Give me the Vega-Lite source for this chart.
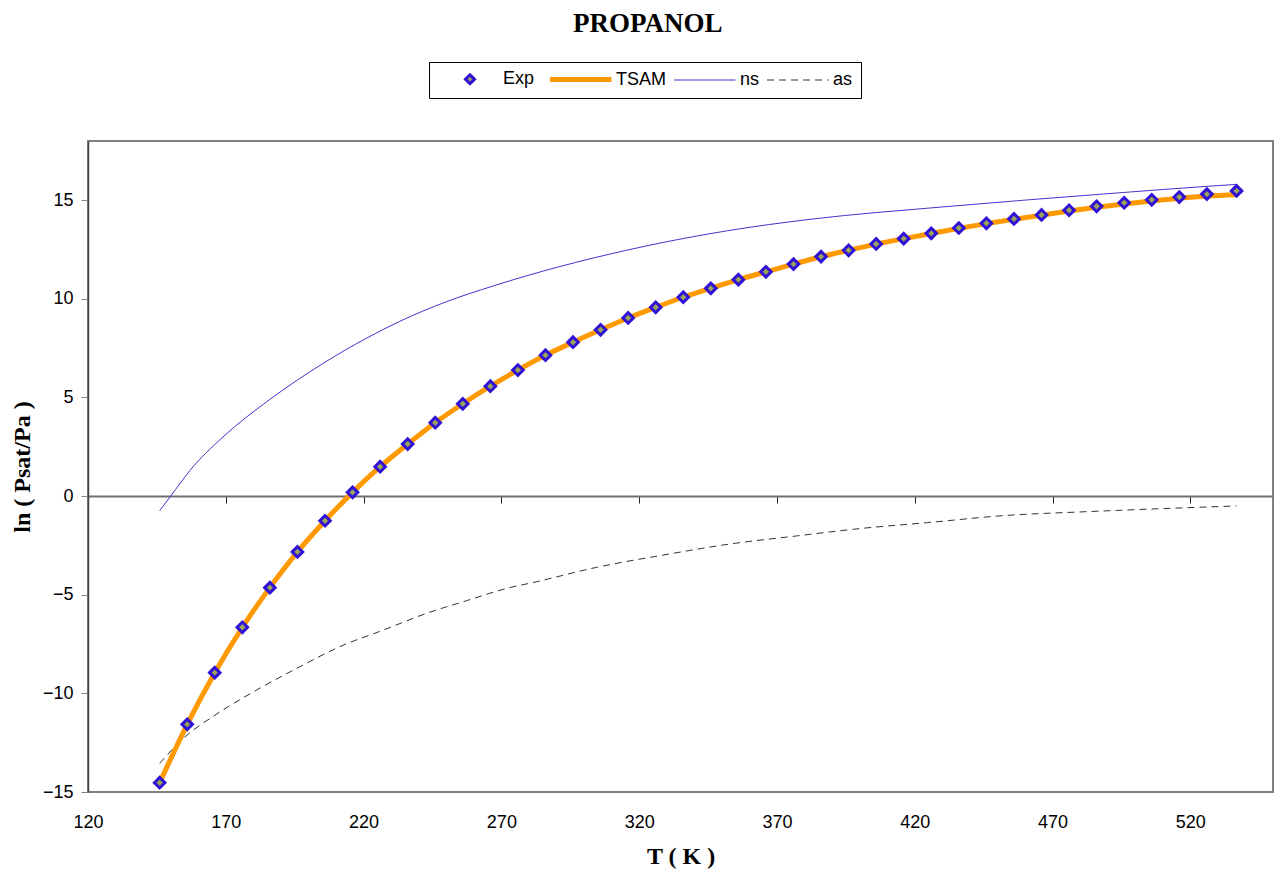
{
  "$schema": "https://vega.github.io/schema/vega-lite/v6.json",
  "width": 1185,
  "height": 651,
  "autosize": {"type": "none"},
  "padding": {"left": 88, "top": 141, "right": 1, "bottom": 83},
  "background": "white",
  "title": {"text": "PROPANOL", "font": "Liberation Serif", "fontSize": 27, "fontWeight": "bold", "color": "black", "anchor": "middle", "frame": "bounds", "offset": 24, "dx": 6},
  "config": {
    "view": {"stroke": "#808080", "strokeWidth": 2},
    "axis": {"grid": false, "labelFont": "Liberation Sans", "labelFontSize": 18, "labelColor": "black", "titleFont": "Liberation Serif", "titleFontSize": 24, "titleFontWeight": "bold", "titleColor": "black"}
  },
  "datasets": {
    "exp": [
      {"series": "Exp", "T": 146, "v": -14.53}, {"series": "Exp", "T": 156, "v": -11.57}, {"series": "Exp", "T": 166, "v": -8.95},
      {"series": "Exp", "T": 176, "v": -6.65}, {"series": "Exp", "T": 186, "v": -4.64}, {"series": "Exp", "T": 196, "v": -2.83},
      {"series": "Exp", "T": 206, "v": -1.25}, {"series": "Exp", "T": 216, "v": 0.19}, {"series": "Exp", "T": 226, "v": 1.49},
      {"series": "Exp", "T": 236, "v": 2.64}, {"series": "Exp", "T": 246, "v": 3.72}, {"series": "Exp", "T": 256, "v": 4.68},
      {"series": "Exp", "T": 266, "v": 5.57}, {"series": "Exp", "T": 276, "v": 6.39}, {"series": "Exp", "T": 286, "v": 7.14},
      {"series": "Exp", "T": 296, "v": 7.80}, {"series": "Exp", "T": 306, "v": 8.43}, {"series": "Exp", "T": 316, "v": 9.03},
      {"series": "Exp", "T": 326, "v": 9.57}, {"series": "Exp", "T": 336, "v": 10.08}, {"series": "Exp", "T": 346, "v": 10.53},
      {"series": "Exp", "T": 356, "v": 10.97}, {"series": "Exp", "T": 366, "v": 11.37}, {"series": "Exp", "T": 376, "v": 11.76},
      {"series": "Exp", "T": 386, "v": 12.14}, {"series": "Exp", "T": 396, "v": 12.46}, {"series": "Exp", "T": 406, "v": 12.78},
      {"series": "Exp", "T": 416, "v": 13.05}, {"series": "Exp", "T": 426, "v": 13.32}, {"series": "Exp", "T": 436, "v": 13.59},
      {"series": "Exp", "T": 446, "v": 13.83}, {"series": "Exp", "T": 456, "v": 14.05}, {"series": "Exp", "T": 466, "v": 14.25},
      {"series": "Exp", "T": 476, "v": 14.49}, {"series": "Exp", "T": 486, "v": 14.69}, {"series": "Exp", "T": 496, "v": 14.87},
      {"series": "Exp", "T": 506, "v": 15.02}, {"series": "Exp", "T": 516, "v": 15.16}, {"series": "Exp", "T": 526, "v": 15.31},
      {"series": "Exp", "T": 536.8, "v": 15.47}
    ],
    "tsam": [
      {"series": "TSAM", "T": 146, "v": -14.53}, {"series": "TSAM", "T": 156, "v": -11.57}, {"series": "TSAM", "T": 166, "v": -8.95},
      {"series": "TSAM", "T": 176, "v": -6.65}, {"series": "TSAM", "T": 186, "v": -4.64}, {"series": "TSAM", "T": 196, "v": -2.83},
      {"series": "TSAM", "T": 206, "v": -1.25}, {"series": "TSAM", "T": 216, "v": 0.19}, {"series": "TSAM", "T": 226, "v": 1.49},
      {"series": "TSAM", "T": 236, "v": 2.64}, {"series": "TSAM", "T": 246, "v": 3.72}, {"series": "TSAM", "T": 256, "v": 4.68},
      {"series": "TSAM", "T": 266, "v": 5.57}, {"series": "TSAM", "T": 276, "v": 6.39}, {"series": "TSAM", "T": 286, "v": 7.14},
      {"series": "TSAM", "T": 296, "v": 7.80}, {"series": "TSAM", "T": 306, "v": 8.43}, {"series": "TSAM", "T": 316, "v": 9.03},
      {"series": "TSAM", "T": 326, "v": 9.57}, {"series": "TSAM", "T": 336, "v": 10.08}, {"series": "TSAM", "T": 346, "v": 10.53},
      {"series": "TSAM", "T": 356, "v": 10.97}, {"series": "TSAM", "T": 366, "v": 11.37}, {"series": "TSAM", "T": 376, "v": 11.76},
      {"series": "TSAM", "T": 386, "v": 12.13}, {"series": "TSAM", "T": 396, "v": 12.46}, {"series": "TSAM", "T": 406, "v": 12.77},
      {"series": "TSAM", "T": 416, "v": 13.05}, {"series": "TSAM", "T": 426, "v": 13.31}, {"series": "TSAM", "T": 436, "v": 13.57},
      {"series": "TSAM", "T": 446, "v": 13.81}, {"series": "TSAM", "T": 456, "v": 14.03}, {"series": "TSAM", "T": 466, "v": 14.24},
      {"series": "TSAM", "T": 476, "v": 14.45}, {"series": "TSAM", "T": 486, "v": 14.64}, {"series": "TSAM", "T": 496, "v": 14.81},
      {"series": "TSAM", "T": 506, "v": 14.96}, {"series": "TSAM", "T": 516, "v": 15.10}, {"series": "TSAM", "T": 526, "v": 15.21},
      {"series": "TSAM", "T": 536.8, "v": 15.28}
    ],
    "ns": [
      {"series": "ns", "T": 146, "v": -0.74}, {"series": "ns", "T": 150, "v": 0.0}, {"series": "ns", "T": 157, "v": 1.3},
      {"series": "ns", "T": 169, "v": 3.0}, {"series": "ns", "T": 186, "v": 4.9}, {"series": "ns", "T": 205, "v": 6.7},
      {"series": "ns", "T": 221, "v": 8.0}, {"series": "ns", "T": 233, "v": 8.85}, {"series": "ns", "T": 250, "v": 9.85},
      {"series": "ns", "T": 267, "v": 10.65}, {"series": "ns", "T": 315, "v": 12.45}, {"series": "ns", "T": 352, "v": 13.45},
      {"series": "ns", "T": 382, "v": 14.03}, {"series": "ns", "T": 432, "v": 14.68}, {"series": "ns", "T": 492, "v": 15.35},
      {"series": "ns", "T": 528, "v": 15.72}, {"series": "ns", "T": 536.8, "v": 15.8}
    ],
    "as": [
      {"series": "as", "T": 146, "v": -13.55}, {"series": "as", "T": 154.6, "v": -12.28}, {"series": "as", "T": 166.7, "v": -11.05},
      {"series": "as", "T": 181.2, "v": -9.83}, {"series": "as", "T": 196.9, "v": -8.65}, {"series": "as", "T": 211.4, "v": -7.63},
      {"series": "as", "T": 227.2, "v": -6.79}, {"series": "as", "T": 242.9, "v": -5.94}, {"series": "as", "T": 257.4, "v": -5.30},
      {"series": "as", "T": 271.9, "v": -4.68}, {"series": "as", "T": 282.8, "v": -4.34}, {"series": "as", "T": 304.6, "v": -3.61},
      {"series": "as", "T": 328.7, "v": -2.99}, {"series": "as", "T": 352.9, "v": -2.43}, {"series": "as", "T": 377.1, "v": -2.02},
      {"series": "as", "T": 401.3, "v": -1.63}, {"series": "as", "T": 424.3, "v": -1.35}, {"series": "as", "T": 452.1, "v": -0.99},
      {"series": "as", "T": 482.4, "v": -0.79}, {"series": "as", "T": 512.6, "v": -0.62}, {"series": "as", "T": 536.8, "v": -0.50}
    ]
  },
  "layer": [
    {
      "data": {"name": "as"},
      "mark": {"type": "line", "interpolate": "monotone", "strokeWidth": 1, "strokeDash": [7, 5]},
      "encoding": {
        "x": {"field": "T", "type": "quantitative", "scale": {"domain": [120, 550], "nice": false, "zero": false},
              "axis": {"orient": "bottom", "values": [120, 170, 220, 270, 320, 370, 420, 470, 520], "ticks": false, "tickSize": 0, "domain": false, "labelPadding": 21, "labelFlush": false, "labelOverlap": false, "labelBound": false, "title": "T ( K )", "titlePadding": 13}},
        "y": {"field": "v", "type": "quantitative", "scale": {"domain": [-15, 18], "nice": false, "zero": false},
              "axis": {"values": [-15, -10, -5, 0, 5, 10, 15], "tickSize": 7, "tickColor": "#888888", "domainColor": "#444444", "domainWidth": 1.5, "labelPadding": 8, "title": "ln ( Psat/Pa )", "titlePadding": 8}},
        "stroke": {"field": "series", "type": "nominal",
                   "scale": {"domain": ["Exp", "TSAM", "ns", "as"], "range": ["#2f12d6", "#ff9900", "#4433cc", "#333333"]},
                   "legend": {"orient": "none", "legendX": 341, "legendY": -79, "direction": "horizontal", "title": null,
                              "strokeColor": "black", "fillColor": "white", "padding": 8,
                              "labelFont": "Liberation Sans", "labelFontSize": 18, "labelColor": "black",
                              "symbolSize": 3600, "symbolType": "stroke", "labelOffset": 48, "columnPadding": 5,
                              "encoding": {"symbols": {
                                "shape": {"value": {"signal": "datum.value === 'Exp' ? 'M-0.3,0M0.8,-0.15L0.95,0L0.8,0.15L0.65,0Z' : 'M-0.3,0L1.75,0'"}},
                                "fill": {"value": {"signal": "datum.value === 'Exp' ? '#9aa35a' : 'transparent'"}},
                                "strokeWidth": {"value": {"signal": "datum.value === 'Exp' ? 3 : datum.value === 'TSAM' ? 5 : 1"}},
                                "strokeDash": {"value": {"signal": "datum.value === 'as' ? [7,5] : [1,0]"}},
                                "opacity": {"value": 1}
                              }}}}
      }
    },
    {
      "data": {"name": "ns"},
      "mark": {"type": "line", "interpolate": "monotone", "strokeWidth": 1},
      "encoding": {
        "x": {"field": "T", "type": "quantitative",
              "axis": {"orient": "bottom", "offset": -296, "values": [170, 220, 270, 320, 370, 420, 470, 520], "labels": false, "title": null, "ticks": true, "tickSize": 7, "tickColor": "#222222", "domain": true, "domainColor": "#707070", "domainWidth": 2}},
        "y": {"field": "v", "type": "quantitative"},
        "stroke": {"field": "series", "type": "nominal"}
      }
    },
    {
      "data": {"name": "tsam"},
      "mark": {"type": "line", "interpolate": "monotone", "strokeWidth": 5},
      "encoding": {
        "x": {"field": "T", "type": "quantitative", "axis": null},
        "y": {"field": "v", "type": "quantitative"},
        "stroke": {"field": "series", "type": "nominal"}
      }
    },
    {
      "data": {"name": "exp"},
      "mark": {"type": "point", "shape": "diamond", "filled": true, "fill": "#9aa35a", "size": 110, "strokeWidth": 3, "opacity": 1},
      "encoding": {
        "x": {"field": "T", "type": "quantitative", "axis": null},
        "y": {"field": "v", "type": "quantitative"},
        "stroke": {"field": "series", "type": "nominal"}
      }
    }
  ],
  "resolve": {"axis": {"x": "independent"}}
}
